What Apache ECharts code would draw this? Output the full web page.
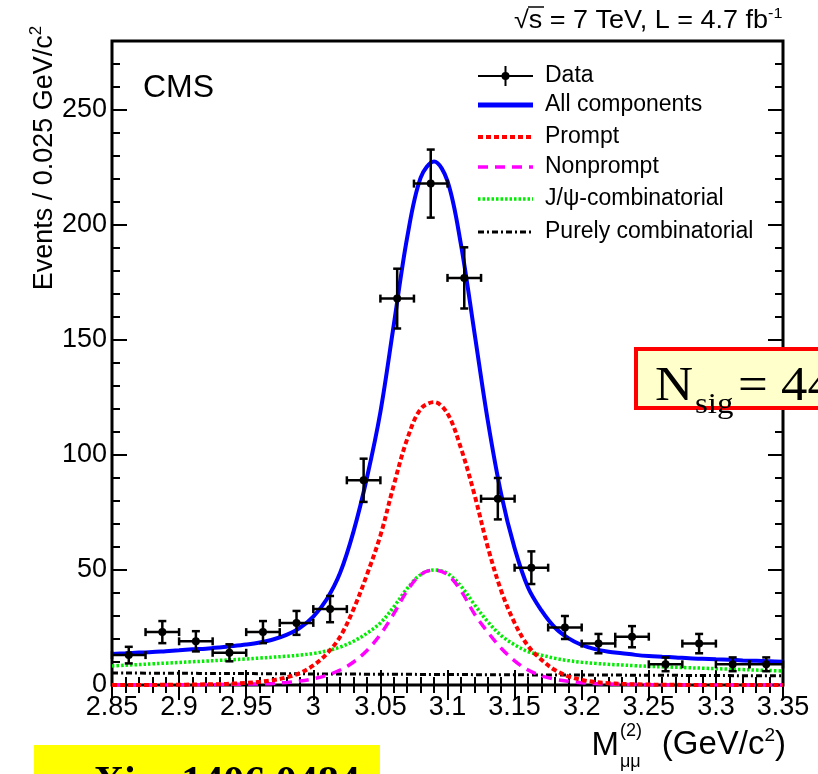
<!DOCTYPE html>
<html>
<head>
<meta charset="utf-8">
<script src="https://cdn.jsdelivr.net/npm/echarts@6/dist/echarts.min.js"></script>
<style>
  html, body { margin: 0; padding: 0; background: #ffffff; }
  #chart { width: 818px; height: 774px; }
</style>
</head>
<body>
<div id="chart"></div>
<script>
// Dimuon invariant mass, 0.025 GeV/c^2 bins
const binCenters = [2.8625, 2.8875, 2.9125, 2.9375, 2.9625, 2.9875, 3.0125, 3.0375, 3.0625, 3.0875,
                    3.1125, 3.1375, 3.1625, 3.1875, 3.2125, 3.2375, 3.2625, 3.2875, 3.3125, 3.3375];
const events = [13, 23, 19, 14, 23, 27, 33, 89, 168, 218, 177, 81, 51, 25, 18, 21, 9, 18, 9, 9];
const eventErrors = [3.6, 4.8, 4.4, 3.7, 4.8, 5.2, 5.7, 9.4, 13.0, 14.8, 13.3, 9.0, 7.1, 5.0, 4.2, 4.6, 3.0, 4.2, 3.0, 3.0];
const binHalfWidth = 0.0125;

// Fit components sampled every 0.01 GeV/c^2
const curveMass = [2.85, 2.86, 2.87, 2.88, 2.89, 2.90, 2.91, 2.92, 2.93, 2.94,
                   2.95, 2.96, 2.97, 2.98, 2.99, 3.00, 3.01, 3.02, 3.03, 3.04,
                   3.05, 3.06, 3.07, 3.08, 3.09, 3.10, 3.11, 3.12, 3.13, 3.14,
                   3.15, 3.16, 3.17, 3.18, 3.19, 3.20, 3.21, 3.22, 3.23, 3.24,
                   3.25, 3.26, 3.27, 3.28, 3.29, 3.30, 3.31, 3.32, 3.33, 3.34, 3.35];
const allComponents = [13.5, 13.8, 14.1, 14.3, 14.7, 15.1, 15.5, 15.8, 16.3, 16.9,
                       17.6, 18.5, 19.8, 21.8, 24.8, 29.7, 37.3, 48.8, 66.8, 90.2,
                       118.7, 156.7, 194.7, 220.6, 227.6, 219.1, 191.6, 153.5, 115, 83,
                       59.5, 42.4, 32.4, 25, 20.4, 17.4, 15.6, 14.5, 13.8, 13.1,
                       12.6, 12.3, 12.0, 11.6, 11.4, 11.2, 11.0, 10.7, 10.5, 10.3, 10.1];
const prompt = [0, 0, 0, 0, 0.1, 0.1, 0.2, 0.3, 0.4, 0.6,
                0.9, 1.4, 2.1, 3.3, 5.2, 8.5, 13.5, 21, 33, 48,
                65, 87, 107, 120, 123, 118, 103, 83, 60, 41,
                27, 17, 11, 6.5, 3.8, 2.2, 1.3, 0.8, 0.5, 0.3,
                0.2, 0.1, 0.1, 0, 0, 0, 0, 0, 0, 0, 0];
const nonprompt = [0, 0, 0, 0, 0, 0.1, 0.1, 0.1, 0.2, 0.3,
                   0.4, 0.5, 0.7, 1.1, 1.7, 2.7, 4.2, 6.5, 10, 15,
                   22, 31, 41, 48, 50, 48, 41, 31, 23, 16,
                   10.5, 6.5, 4.0, 2.5, 1.6, 1.0, 0.6, 0.4, 0.3, 0.2,
                   0.1, 0.1, 0, 0, 0, 0, 0, 0, 0, 0, 0];
const jpsiCombinatorial = [8.3, 8.6, 8.9, 9.2, 9.5, 9.8, 10.1, 10.4, 10.7, 11.0,
                           11.3, 11.7, 12.1, 12.5, 13.0, 13.7, 14.8, 16.5, 19.0, 22.5,
                           27, 34, 42, 48, 50, 48.5, 43, 35, 27.5, 21.5,
                           17.5, 14.5, 13, 11.6, 10.6, 9.9, 9.4, 9.0, 8.7, 8.4,
                           8.1, 7.9, 7.7, 7.5, 7.3, 7.1, 6.9, 6.7, 6.5, 6.3, 6.1];
const pureCombinatorial = [5.2, 5.2, 5.2, 5.1, 5.1, 5.1, 5.1, 5.0, 5.0, 5.0,
                           5.0, 4.9, 4.9, 4.9, 4.9, 4.8, 4.8, 4.8, 4.8, 4.7,
                           4.7, 4.7, 4.7, 4.6, 4.6, 4.6, 4.6, 4.5, 4.5, 4.5,
                           4.5, 4.4, 4.4, 4.4, 4.4, 4.3, 4.3, 4.3, 4.3, 4.2,
                           4.2, 4.2, 4.2, 4.1, 4.1, 4.1, 4.1, 4.0, 4.0, 4.0, 4.0];

const xTickLabels = ['2.85', '2.9', '2.95', '3', '3.05', '3.1', '3.15', '3.2', '3.25', '3.3', '3.35'];
const yTickLabels = ['0', '50', '100', '150', '200', '250'];

const legendNames = ['Data', 'All components', 'Prompt', 'Nonprompt', 'J/\u03c8-combinatorial', 'Purely combinatorial'];

const X_MIN = 2.85, X_MAX = 3.35, X_MAJOR = 0.05, X_MINOR = 0.01;
const Y_MIN = 0, Y_MAX = 280, Y_MAJOR = 50, Y_MINOR = 10;
const FONT = '"Liberation Sans", Arial, Helvetica, sans-serif';
const SERIF = '"Liberation Serif", "Times New Roman", serif';

const chart = echarts.init(document.getElementById('chart'), null, { renderer: 'canvas' });

function pairs(ys) { return curveMass.map((x, i) => [x, ys[i]]); }

function xLabel(v) {
  const i = Math.round((v - X_MIN) / X_MAJOR);
  return Math.abs(X_MIN + i * X_MAJOR - v) < 1e-6 && xTickLabels[i] !== undefined ? xTickLabels[i] : '';
}
function yLabel(v) {
  const i = Math.round((v - Y_MIN) / Y_MAJOR);
  return Math.abs(Y_MIN + i * Y_MAJOR - v) < 1e-6 && yTickLabels[i] !== undefined ? yTickLabels[i] : '';
}

const tickStyle = { color: '#000', width: 2 };
function xAxisDef(position, interval, len, labels) {
  return {
    type: 'value', position: position, min: X_MIN, max: X_MAX, interval: interval,
    axisLine: { show: false },
    axisTick: { show: true, inside: true, length: len, lineStyle: tickStyle },
    axisLabel: labels ? { show: true, formatter: xLabel, color: '#000', fontSize: 27, fontFamily: FONT, margin: 9 } : { show: false },
    splitLine: { show: false }
  };
}
function yAxisDef(position, interval, len, labels) {
  return {
    type: 'value', position: position, min: Y_MIN, max: Y_MAX, interval: interval,
    axisLine: { show: false },
    axisTick: { show: true, inside: true, length: len, lineStyle: tickStyle },
    axisLabel: labels ? { show: true, formatter: yLabel, color: '#000', fontSize: 27, fontFamily: FONT, margin: 5 } : { show: false },
    splitLine: { show: false }
  };
}

function curve(name, ys, color, width, dash) {
  return {
    name: name, type: 'line', data: pairs(ys), xAxisIndex: 0, yAxisIndex: 0,
    showSymbol: false, symbol: 'none', smooth: 0.35, clip: true, silent: true,
    lineStyle: { color: color, width: width, type: dash || 'solid', cap: 'butt' },
    z: 3
  };
}

// Data points with bin-width horizontal bars and statistical vertical bars
function renderErrorBar(params, api) {
  const x = api.value(0), y = api.value(1), e = api.value(2);
  const c = api.coord([x, y]);
  const l = api.coord([x - binHalfWidth, y]);
  const r = api.coord([x + binHalfWidth, y]);
  const t = api.coord([x, y + e]);
  const b = api.coord([x, y - e]);
  const cap = 4;
  const st = { stroke: '#000', lineWidth: 2.5, fill: null };
  return {
    type: 'group',
    children: [
      { type: 'line', shape: { x1: l[0], y1: c[1], x2: r[0], y2: c[1] }, style: st },
      { type: 'line', shape: { x1: c[0], y1: t[1], x2: c[0], y2: b[1] }, style: st },
      { type: 'line', shape: { x1: c[0] - cap, y1: t[1], x2: c[0] + cap, y2: t[1] }, style: st },
      { type: 'line', shape: { x1: c[0] - cap, y1: b[1], x2: c[0] + cap, y2: b[1] }, style: st },
      { type: 'line', shape: { x1: l[0], y1: c[1] - cap, x2: l[0], y2: c[1] + cap }, style: st },
      { type: 'line', shape: { x1: r[0], y1: c[1] - cap, x2: r[0], y2: c[1] + cap }, style: st },
      { type: 'circle', shape: { cx: c[0], cy: c[1], r: 4 }, style: { fill: '#000' } }
    ]
  };
}

function txt(x, y, text, size, align, vAlign, extra) {
  return Object.assign({
    type: 'text', x: x, y: y, z: 10,
    style: { text: text, fontSize: size, fontFamily: FONT, fill: '#000',
             align: align, verticalAlign: vAlign, textAlign: align, textVerticalAlign: vAlign }
  }, extra || {});
}
function serifTxt(x, y, text, size) {
  return {
    type: 'text', x: x, y: y, z: 21, scaleX: 1.1,
    style: { text: text, fontSize: size, fontFamily: SERIF, fill: '#000',
             align: 'left', verticalAlign: 'middle', textAlign: 'left', textVerticalAlign: 'middle' }
  };
}

// Legend drawn as graphic entries
const legendX0 = 478, legendX1 = 533, legendTextX = 545;
const legendY = [76, 105, 137, 167, 199, 232];
const legendText = legendNames.map((n, i) => txt(legendTextX, legendY[i], n, 23, 'left', 'middle'));
function legendLine(i, color, width, dash) {
  return { type: 'line', shape: { x1: legendX0, y1: legendY[i], x2: legendX1, y2: legendY[i] },
           style: { stroke: color, lineWidth: width, lineDash: dash || null } };
}
const legendMarks = [
  legendLine(0, '#000', 2),
  { type: 'line', shape: { x1: (legendX0 + legendX1) / 2, y1: legendY[0] - 10, x2: (legendX0 + legendX1) / 2, y2: legendY[0] + 10 }, style: { stroke: '#000', lineWidth: 2 } },
  { type: 'circle', shape: { cx: (legendX0 + legendX1) / 2, cy: legendY[0], r: 4 }, style: { fill: '#000' } },
  legendLine(1, '#0000ff', 5),
  legendLine(2, '#ff0000', 4, [5, 3]),
  legendLine(3, '#ff00ff', 3.5, [10, 7]),
  legendLine(4, '#00ee00', 3.5, [2.5, 2]),
  legendLine(5, '#000', 3, [6, 3, 2, 3])
];

const option = {
  backgroundColor: '#ffffff',
  animation: false,
  grid: { left: 112, right: 35, top: 41, bottom: 89, show: true, borderColor: '#000', borderWidth: 3, backgroundColor: 'transparent', containLabel: false },
  xAxis: [
    xAxisDef('bottom', X_MAJOR, 15, true),
    xAxisDef('bottom', X_MINOR, 8, false),
    xAxisDef('top', X_MAJOR, 15, false),
    xAxisDef('top', X_MINOR, 8, false)
  ],
  yAxis: [
    yAxisDef('left', Y_MAJOR, 15, true),
    yAxisDef('left', Y_MINOR, 8, false),
    yAxisDef('right', Y_MAJOR, 15, false),
    yAxisDef('right', Y_MINOR, 8, false)
  ],
  series: [
    curve('Purely combinatorial', pureCombinatorial, '#000000', 3, [6, 3, 2, 3]),
    curve('J/\u03c8-combinatorial', jpsiCombinatorial, '#00ee00', 3.5, [2.5, 2]),
    curve('Nonprompt', nonprompt, '#ff00ff', 3.5, [10, 7]),
    curve('Prompt', prompt, '#ff0000', 4, [5, 3]),
    curve('All components', allComponents, '#0000ff', 4, 'solid'),
    {
      name: 'Data', type: 'custom', xAxisIndex: 0, yAxisIndex: 0, silent: true, z: 5,
      data: binCenters.map((x, i) => [x, events[i], eventErrors[i]]),
      encode: { x: 0, y: 1 },
      renderItem: renderErrorBar
    }
  ],
  graphic: [
    // energy and luminosity
    { type: 'text', x: 514, y: 21, z: 10, scaleX: 1.08,
      style: { text: '{r|\u221a}{t|s = 7 TeV, L = 4.7 fb}{u|-1}', align: 'left', verticalAlign: 'middle', textAlign: 'left', textVerticalAlign: 'middle',
               rich: { r: { fontSize: 25, fontFamily: FONT, fill: '#000' },
                       t: { fontSize: 25, fontFamily: FONT, fill: '#000', lineHeight: 30 },
                       u: { fontSize: 15, fontFamily: FONT, fill: '#000', verticalAlign: 'top' } } } },
    { type: 'line', z: 10, shape: { x1: 528, y1: 7, x2: 544, y2: 7 }, style: { stroke: '#000', lineWidth: 1.5 } },
    // experiment tag
    txt(143, 88, 'CMS', 32, 'left', 'middle'),
    // y axis title
    { type: 'text', x: 45, y: 158, rotation: Math.PI / 2, z: 10,
      style: { text: '{t|Events / 0.025 GeV/c}{s|2}', align: 'center', verticalAlign: 'middle', textAlign: 'center', textVerticalAlign: 'middle',
               rich: { t: { fontSize: 27, fontFamily: FONT, fill: '#000', lineHeight: 34 },
                       s: { fontSize: 17, fontFamily: FONT, fill: '#000', verticalAlign: 'top' } } } },
    // x axis title
    { type: 'text', x: 786, y: 745, z: 10,
      style: { text: '{t|(GeV/c}{s|2}{t|)}', align: 'right', verticalAlign: 'middle', textAlign: 'right', textVerticalAlign: 'middle',
               rich: { t: { fontSize: 33, fontFamily: FONT, fill: '#000', lineHeight: 38 },
                       s: { fontSize: 19, fontFamily: FONT, fill: '#000', verticalAlign: 'top' } } } },
    txt(619, 746, 'M', 33, 'right', 'middle'),
    txt(620, 731, '(2)', 18, 'left', 'middle'),
    txt(620, 762, '\u03bc\u03bc', 18, 'left', 'middle'),
    // legend
    { type: 'group', z: 10, children: legendMarks.concat(legendText) },
    // signal yield box
    { type: 'rect', z: 20, shape: { x: 636, y: 349, width: 200, height: 59 },
      style: { fill: '#ffffcc', stroke: '#ff0000', lineWidth: 4 } },
    serifTxt(655, 387, 'N', 48),
    serifTxt(695, 405, 'sig', 30),
    serifTxt(738, 387, '= 44', 48),
    // reference tag
    { type: 'rect', z: 20, shape: { x: 34, y: 745, width: 346, height: 40 }, style: { fill: '#ffff00' } },
    { type: 'text', z: 21, x: 54, y: 805,
      style: { text: 'arXiv: 1406.0484', fontSize: 42, fontWeight: 'bold', fontFamily: SERIF, fill: '#000', align: 'left', verticalAlign: 'bottom', textAlign: 'left', textVerticalAlign: 'bottom' } }
  ]
};

chart.setOption(option);
</script>
</body>
</html>
